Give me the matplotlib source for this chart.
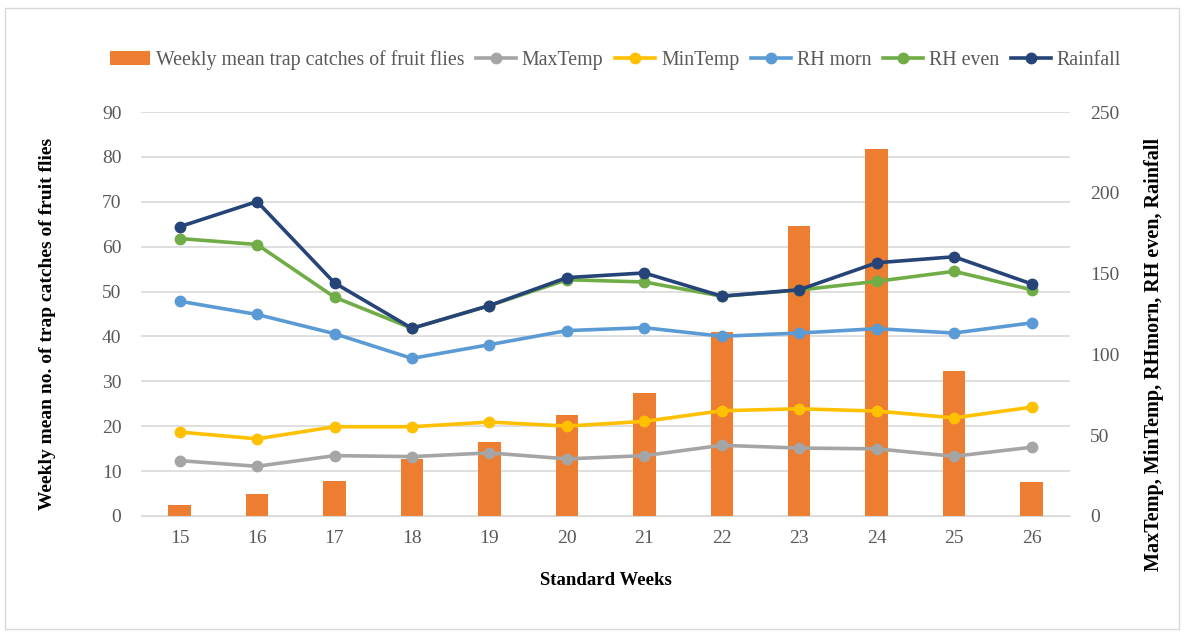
import numpy as np
import matplotlib.pyplot as plt
from matplotlib.patches import Rectangle

plt.rcParams['font.family'] = ['Liberation Serif', 'DejaVu Serif']

weeks = ['15', '16', '17', '18', '19', '20', '21', '22', '23', '24', '25', '26']
# weekly mean trap catches (left axis)
catches = [2.5, 4.9, 7.7, 12.6, 16.4, 22.5, 27.4, 40.9, 64.7, 81.7, 32.2, 7.6]
# weather parameters (right axis)
max_temp = [34.2, 30.7, 37.3, 36.7, 39.0, 35.3, 37.3, 43.7, 42.0, 41.5, 36.9, 42.5]
min_temp = [51.9, 47.7, 55.2, 55.2, 58.1, 55.6, 58.5, 65.1, 66.3, 64.9, 60.7, 67.3]
rh_morn = [132.9, 124.7, 112.8, 97.5, 106.0, 114.7, 116.5, 111.2, 113.2, 115.9, 113.2, 119.5]
rh_even = [171.7, 168.0, 135.4, 116.1, 130.2, 146.2, 144.8, 136.0, 139.8, 145.2, 151.4, 140.0]
rainfall = [179.0, 194.6, 144.2, 116.1, 130.2, 147.5, 150.4, 136.0, 140.0, 156.7, 160.4, 143.6]

fig = plt.figure(figsize=(11.84, 6.33), dpi=100)
ax = fig.add_axes([0.119, 0.185, 0.785, 0.638])
ax2 = ax.twinx()

x = np.arange(len(weeks))
gray_txt = '#595959'

ax.bar(x, catches, width=0.29, color='#ED7D31', zorder=2,
       label='Weekly mean trap catches of fruit flies')

series = [
    (max_temp, '#A5A5A5', 'MaxTemp'),
    (min_temp, '#FFC000', 'MinTemp'),
    (rh_morn, '#5B9BD5', 'RH morn'),
    (rh_even, '#70AD47', 'RH even'),
    (rainfall, '#264478', 'Rainfall'),
]
for vals, col, name in series:
    ax2.plot(x, vals, color=col, lw=2.6, marker='o', ms=7.5, label=name)

ax.set_ylim(0, 90)
ax.set_yticks(range(0, 91, 10))
ax2.set_ylim(0, 250)
ax2.set_yticks(range(0, 251, 50))
ax.set_xlim(-0.5, len(weeks) - 0.5)
ax.set_xticks(x)
ax.set_xticklabels(weeks)

ax.grid(axis='y', color='#D9D9D9', lw=1.2, zorder=0)
ax.set_axisbelow(True)
for a in (ax, ax2):
    for s in a.spines.values():
        s.set_visible(False)
    a.tick_params(length=0, labelsize=14, colors=gray_txt)
ax.spines['bottom'].set_visible(True)
ax.spines['bottom'].set_color('#D9D9D9')
ax.tick_params(axis='x', pad=10)
ax.tick_params(axis='y', pad=14)
ax2.tick_params(axis='y', pad=14)

ax.set_xlabel('Standard Weeks', fontsize=13.5, fontweight='bold', labelpad=18)
ax.set_ylabel('Weekly mean no. of trap catches of fruit flies', fontsize=14,
              fontweight='bold')
ax.yaxis.set_label_coords(-0.091, 0.475)
ax2.set_ylabel('MaxTemp, MinTemp, RHmorn, RH even, Rainfall', fontsize=14.5,
               fontweight='bold')
ax2.yaxis.set_label_coords(1.079, 0.40)

h1, l1 = ax.get_legend_handles_labels()
h2, l2 = ax2.get_legend_handles_labels()
fig.legend(h1 + h2, l1 + l2, loc='center', bbox_to_anchor=(0.52, 0.905),
           ncol=6, frameon=False, fontsize=14.3, handlelength=2.0,
           handletextpad=0.3, columnspacing=0.6, labelcolor=gray_txt)

fig.patches.append(Rectangle((0.004, 0.006), 0.992, 0.982, transform=fig.transFigure,
                             fill=False, edgecolor='#D9D9D9', lw=1))

fig.savefig('out.png', dpi=100)
